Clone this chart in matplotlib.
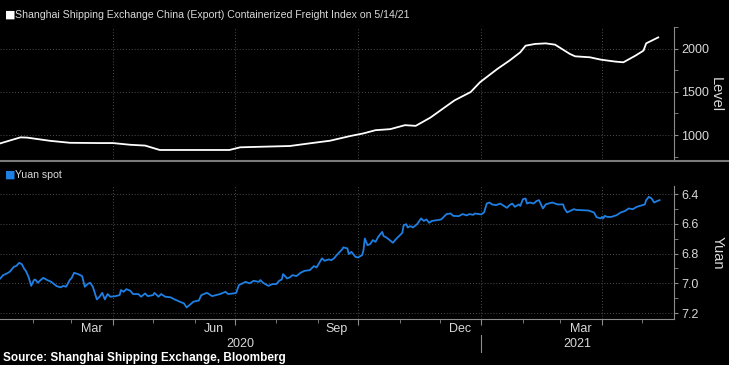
import pandas as pd
import matplotlib
matplotlib.use('Agg')
import matplotlib.pyplot as plt
import matplotlib.dates as mdates
import matplotlib.transforms as mtransforms

plt.rcParams['font.family'] = ['Liberation Sans', 'DejaVu Sans']

# days counted from 2020-01-01
base = pd.Timestamp('2020-01-01')

scfi_day = [7, 22, 27, 44, 59, 81, 91, 104, 115, 126, 149, 178, 186, 223, 238, 253, 268, 278,
            287, 298, 309, 317, 328, 339, 346, 358, 365, 378, 387, 395, 399, 406, 414, 421,
            432, 436, 447, 455, 466, 472, 481, 487, 489, 498]
scfi_val = [905, 974, 971, 934, 911, 908, 908, 888, 879, 828, 828, 828, 859, 874, 905, 935, 989, 1020,
            1057, 1069, 1115, 1107, 1203, 1325, 1402, 1498, 1612, 1766, 1862, 1957, 2034, 2054, 2061, 2046,
            1939, 1911, 1900, 1873, 1850, 1842, 1919, 1977, 2061, 2130]

yuan_day = [7, 9, 12, 14, 17, 19, 21, 23, 25, 26, 28, 30, 32, 33, 35, 37, 39, 42, 45, 49,
            52, 54, 56, 59, 60, 62, 65, 68, 70, 72, 74, 76, 79, 81, 83, 85, 87, 89, 93, 96,
            97, 99, 101, 104, 106, 110, 112, 115, 117, 121, 122, 125, 127, 130, 134, 137, 141, 144, 146, 149,
            151, 154, 155, 157, 161, 162, 165, 168, 171, 175, 177, 181, 183, 185, 190, 193,
            196, 200, 201, 203, 207, 210, 213, 215, 217, 218, 221, 223, 225, 228, 231, 234, 238, 241, 243, 245,
            247, 249, 252, 254, 256, 258, 262, 263, 266, 267, 269, 272, 274, 277, 278, 279, 281, 283, 285, 287,
            289, 292, 293, 295, 297, 300, 302, 304, 307, 308, 310, 311, 313, 315, 318, 321, 323, 325, 327, 329,
            333, 336, 340, 343, 345, 349, 352, 355, 357, 360, 361, 364,
            366, 368, 370, 372, 374, 377, 380, 382, 385, 387, 389, 391, 394, 395, 397, 399, 400, 402, 405, 407,
            409, 411, 412, 414, 416, 419, 421, 423, 427, 428, 430, 432, 435, 437, 442, 446, 450, 452, 455, 456,
            457, 458, 460, 463, 467, 470, 473, 476, 479, 482, 486, 488, 489, 491, 493, 495, 497, 499]
yuan_val = [6.967, 6.945, 6.933, 6.922, 6.889, 6.882, 6.862, 6.871, 6.906, 6.916,
            6.956, 7.017, 6.978, 6.974, 6.996, 6.978, 6.963, 6.978, 6.990, 7.019,
            7.027, 7.017, 7.023, 6.974, 6.967, 6.929, 6.938, 6.951, 7.023, 7.005,
            6.996, 7.023, 7.108, 7.090, 7.064, 7.108, 7.072, 7.090, 7.086, 7.079,
            7.045, 7.057, 7.039, 7.050, 7.072, 7.072, 7.090, 7.068, 7.086, 7.079,
            7.064, 7.090, 7.072, 7.090, 7.094, 7.108, 7.124, 7.135, 7.162, 7.140,
            7.124, 7.117, 7.117, 7.079, 7.064, 7.068, 7.086, 7.079, 7.072, 7.057,
            7.072, 7.068, 7.064, 7.012, 6.990, 7.000,
            6.983, 6.990, 6.978, 6.996, 7.017, 7.005, 7.005, 6.983, 6.974, 6.938,
            6.967, 6.960, 6.945, 6.951, 6.929, 6.916, 6.911, 6.884, 6.893, 6.862,
            6.832, 6.848, 6.839, 6.844, 6.832, 6.810, 6.772, 6.758, 6.765, 6.803,
            6.788, 6.822, 6.826, 6.810, 6.777, 6.698, 6.743, 6.736, 6.709, 6.721,
            6.687, 6.654, 6.682, 6.691, 6.705, 6.727, 6.705, 6.687, 6.660, 6.608,
            6.602, 6.624, 6.615, 6.624, 6.602, 6.563, 6.580, 6.570, 6.593, 6.580,
            6.575, 6.570, 6.534, 6.530, 6.546, 6.548, 6.534, 6.543, 6.534, 6.539,
            6.530, 6.534,
            6.536, 6.523, 6.463, 6.456, 6.469, 6.474, 6.463, 6.474, 6.492, 6.474,
            6.463, 6.485, 6.469, 6.479, 6.434, 6.429, 6.463, 6.456, 6.463, 6.447,
            6.440, 6.479, 6.496, 6.469, 6.463, 6.456, 6.463, 6.469, 6.469, 6.496,
            6.523, 6.514, 6.501, 6.506, 6.508, 6.510, 6.523, 6.555, 6.563, 6.553,
            6.563, 6.546, 6.553, 6.553, 6.541, 6.523, 6.514, 6.496, 6.501, 6.485,
            6.474, 6.469, 6.440, 6.418, 6.429, 6.456, 6.447, 6.440]

month_labels = [('2020-03-16', 'Mar'), ('2020-06-15', 'Jun'), ('2020-09-15', 'Sep'),
                ('2020-12-16', 'Dec'), ('2021-03-16', 'Mar')]
year_break = '2021-01-01'
x_start, x_end = '2020-01-07 17:00', '2021-05-24 19:00'

title_top = 'Shanghai Shipping Exchange China (Export) Containerized Freight Index on 5/14/21'
title_bottom = 'Yuan spot'
source = 'Source: Shanghai Shipping Exchange, Bloomberg'

FG = '#d9d9d9'
SPINE = '#8c8c8c'
GRID = '#4d4d4d'
BLUE = '#1f7fe3'


def style(ax):
    ax.set_facecolor('black')
    for s in ['left', 'top', 'bottom']:
        ax.spines[s].set_visible(False)
    ax.spines['right'].set_color(SPINE)
    ax.yaxis.tick_right()
    ax.xaxis.set_major_locator(mdates.MonthLocator(bymonth=[1, 4, 7, 10]))
    ax.xaxis.set_minor_locator(mdates.MonthLocator())
    ax.xaxis.set_major_formatter(plt.NullFormatter())
    ax.tick_params(axis='y', which='both', colors=SPINE, labelcolor=FG, labelsize=9, length=3, pad=2)
    ax.grid(True, which='major', color=GRID, linestyle=(0, (1, 2)), linewidth=0.7)
    ax.set_xlim(pd.Timestamp(x_start), pd.Timestamp(x_end))


fig = plt.figure(figsize=(7.29, 3.65), dpi=100, facecolor='black')
ax1 = fig.add_axes([0, 0.559, 0.9246, 0.367])
ax2 = fig.add_axes([0, 0.126, 0.9246, 0.364])

scfi_dates = base + pd.to_timedelta(scfi_day, unit='D')
yuan_dates = base + pd.to_timedelta(yuan_day, unit='D')

ax1.plot(scfi_dates, scfi_val, color='white', lw=1.3)
ax2.plot(yuan_dates, yuan_val, color=BLUE, lw=1.3)

style(ax1)
style(ax2)

ax1.set_ylim(701, 2241)
ax1.set_yticks([1000, 1500, 2000])
ax1.set_yticks([750, 1250, 1750, 2250], minor=True)
ax1.tick_params(axis='x', which='both', length=0)

ax2.set_ylim(7.24, 6.346)
ax2.set_yticks([6.4, 6.6, 6.8, 7.0, 7.2])
ax2.set_yticklabels(['6.4', '6.6', '6.8', '7.0', '7.2'])
ax2.set_yticks([6.5, 6.7, 6.9, 7.1], minor=True)
ax2.spines['bottom'].set_visible(True)
ax2.spines['bottom'].set_color(SPINE)
ax2.tick_params(axis='x', which='major', colors=SPINE, length=4)
ax2.tick_params(axis='x', which='minor', colors=SPINE, length=3)

# month and year labels under the bottom panel
trans = mtransforms.blended_transform_factory(ax2.transData, ax2.transAxes)
for d, lab in month_labels:
    ax2.text(pd.Timestamp(d), -0.075, lab, transform=trans, ha='center', va='center',
             color=FG, fontsize=9)
xb = mdates.date2num(pd.Timestamp(year_break))
x0, x1 = ax2.get_xlim()
ax2.text((x0 + xb) / 2, -0.19, '2020', transform=trans, ha='center', va='center', color=FG, fontsize=9)
ax2.text((xb + x1) / 2, -0.19, '2021', transform=trans, ha='center', va='center', color=FG, fontsize=9)
ax2.axvline(xb, ymin=-0.25, ymax=-0.12, clip_on=False, color=SPINE, lw=0.8)

# panel separator
fig.add_artist(plt.Line2D([0, 1], [0.559, 0.559], color='#7a7a7a', lw=1.5))

# legends / titles
fig.text(0.007, 0.959, '\u25a0', color='white', fontsize=8, va='center', family=['DejaVu Sans'])
fig.text(0.021, 0.959, title_top, color=FG, fontsize=7.6, va='center')
fig.text(0.007, 0.521, '\u25a0', color=BLUE, fontsize=8, va='center', family=['DejaVu Sans'])
fig.text(0.021, 0.521, title_bottom, color=FG, fontsize=7.6, va='center')

fig.text(0.982, 0.742, 'Level', rotation=270, ha='center', va='center', color=FG, fontsize=10.5)
fig.text(0.984, 0.307, 'Yuan', rotation=270, ha='center', va='center', color=FG, fontsize=10.5)

fig.text(0.004, 0.02, source, color='white', fontsize=8.5, fontweight='bold', va='center')

fig.savefig('out.png', dpi=100, facecolor='black')
